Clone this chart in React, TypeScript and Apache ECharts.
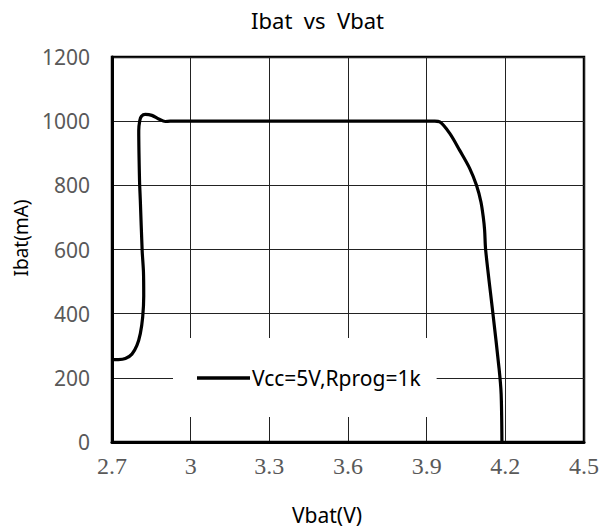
import React, { useEffect, useRef } from "react";
import * as echarts from "echarts";

const titleText = "Ibat  vs  Vbat";
const xName = "Vbat(V)";
const yName = "Ibat(mA)";
const seriesName = "Vcc=5V,Rprog=1k";

const vbat = [
  2.7, 2.724, 2.751, 2.776, 2.795, 2.808, 2.817, 2.821, 2.82, 2.815, 2.808, 2.805, 2.802,
  2.806, 2.812, 2.827, 2.852, 2.878, 2.903, 2.922, 3.931, 3.95, 3.988, 4.026, 4.064, 4.09,
  4.107, 4.116, 4.121, 4.125, 4.153, 4.176, 4.184, 4.187,
];
const ibat = [
  257, 257, 260, 274, 301, 338, 389, 455, 530, 597, 753, 815, 971,
  1002, 1015, 1021, 1018, 1007, 999, 1000, 1000, 998, 962, 909, 853, 800,
  748, 700, 660, 598, 398, 230, 150, 0,
];

const xMin = 2.7;
const xMax = 4.5;
const xStep = 0.3;
const yMin = 0;
const yMax = 1200;
const yStep = 200;

export default function App() {
  const ref = useRef<HTMLDivElement>(null);
  useEffect(() => {
    if (!ref.current) return;
    const chart = echarts.init(ref.current, null, { renderer: "svg" });
    const data = vbat.map((v, i) => [v, ibat[i]]);
    chart.setOption({
      animation: false,
      backgroundColor: "#fff",
      grid: {
        left: 112,
        right: 20,
        top: 57,
        bottom: 88,
        show: true,
        borderColor: "#000",
        borderWidth: 2.5,
      },
      xAxis: {
        type: "value",
        min: xMin,
        max: xMax,
        interval: xStep,
        axisLine: { show: true, lineStyle: { color: "#000", width: 3 } },
        axisTick: { show: false },
        splitLine: { show: true, lineStyle: { color: "#222", width: 1 } },
        axisLabel: {
          margin: 12,
          color: "#595959",
          fontFamily: "Liberation Serif",
          fontSize: 24,
          formatter: (v: number) => String(Math.round(v * 10) / 10),
        },
      },
      yAxis: {
        type: "value",
        min: yMin,
        max: yMax,
        interval: yStep,
        axisLine: { show: true, lineStyle: { color: "#000", width: 3 } },
        axisTick: { show: false },
        splitLine: { show: true, lineStyle: { color: "#222", width: 1 } },
        axisLabel: {
          margin: 22,
          color: "#595959",
          fontFamily: "Noto Sans",
          fontSize: 21,
          formatter: (v: number) => String(v),
        },
      },
      legend: {
        show: true,
        left: 173,
        top: 338,
        padding: [28, 16, 27, 24],
        backgroundColor: "#fff",
        itemWidth: 53,
        itemHeight: 3.4,
        itemGap: 5,
        data: [{ name: seriesName, icon: "path://M0,0 L53,0 L53,3.4 L0,3.4 Z" }],
        textStyle: {
          color: "#000",
          fontFamily: "Noto Sans",
          fontSize: 21,
          lineHeight: 24,
          padding: [0, 0, 0, -3],
        },
        itemStyle: { color: "#000", borderWidth: 0 },
      },
      graphic: [
        {
          type: "text",
          x: 317.5,
          y: 20,
          style: {
            text: titleText,
            fill: "#000",
            font: "22px 'Noto Sans'",
            textAlign: "center",
            textVerticalAlign: "middle",
          },
        },
        {
          type: "text",
          x: 327,
          y: 515,
          style: {
            text: xName,
            fill: "#000",
            font: "21px 'Noto Sans'",
            textAlign: "center",
            textVerticalAlign: "middle",
          },
        },
        {
          type: "text",
          x: 21,
          y: 238,
          rotation: Math.PI / 2,
          style: {
            text: yName,
            fill: "#000",
            font: "19px 'Noto Sans'",
            textAlign: "center",
            textVerticalAlign: "middle",
          },
        },
      ],
      series: [
        {
          name: seriesName,
          type: "line",
          data,
          symbol: "none",
          smooth: 0.3,
          lineStyle: { color: "#000", width: 3.2 },
          itemStyle: { color: "#000" },
        },
      ],
    });
    return () => chart.dispose();
  }, []);
  return <div ref={ref} style={{ width: 604, height: 530, position: "absolute", left: 0, top: 0 }} />;
}
